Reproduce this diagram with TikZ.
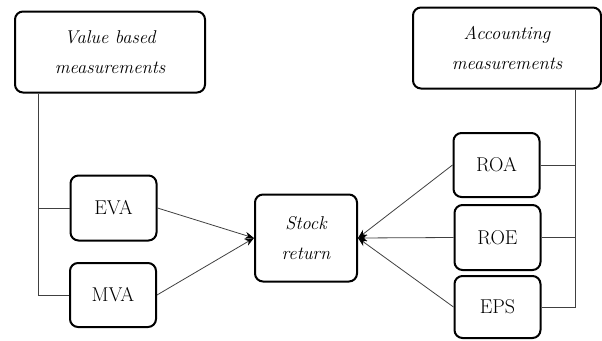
\documentclass[tikz,border=0pt]{standalone}
\usetikzlibrary{arrows.meta}

\begin{document}
\begin{tikzpicture}[x=1pt,y=-1pt,>={Stealth[length=9pt,width=7pt,black]},
    main node/.style={draw,line width=2pt,rounded corners=8pt,align=center,inner sep=0pt,fill=white},
    head node/.style={main node,font=\fontsize{18.5}{30}\selectfont\itshape},
    item node/.style={main node,font=\fontsize{20}{22}\selectfont,minimum width=86pt,minimum height=65pt},
    link/.style={draw=black!75,line width=0.8pt}]
    \useasboundingbox (0,0) rectangle (602,340);

    \node[head node,minimum width=190pt,minimum height=81pt] (vbm) at (110,52) {Value based\\measurements};
    \node[head node,minimum width=188pt,minimum height=81pt] (acm) at (507,48) {Accounting\\measurements};

    \node[item node] (eva) at (113.5,208) {EVA};
    \node[item node,minimum height=64pt] (mva) at (113,295) {MVA};
    \node[head node,minimum width=102pt,minimum height=87pt] (ret) at (306,238) {Stock\\return};
    \node[item node,minimum height=64pt] (roa) at (496.5,165) {ROA};
    \node[item node] (roe) at (497.5,237.5) {ROE};
    \node[item node,minimum height=62pt] (eps) at (497.5,307) {EPS};

    \coordinate (lbus) at (38,297);
    \coordinate (rbus) at (575,307);

    % buses
    \draw[link] (vbm.south -| lbus) |- (mva.west);
    \draw[link] (eva.west) -- (eva.west -| lbus);
    \draw[link] (acm.south -| rbus) |- (eps.east);
    \draw[link] (roa.east) -- (roa.east -| rbus);
    \draw[link] (roe.east) -- (roe.east -| rbus);

    \path[every edge/.append style={link,->}]
        (eva.east) edge (ret.west)
        (mva.east) edge (ret.west)
        (roa.west) edge (ret.east)
        (roe.west) edge (ret.east)
        (eps.west) edge (ret.east)
        ;
\end{tikzpicture}
\end{document}
